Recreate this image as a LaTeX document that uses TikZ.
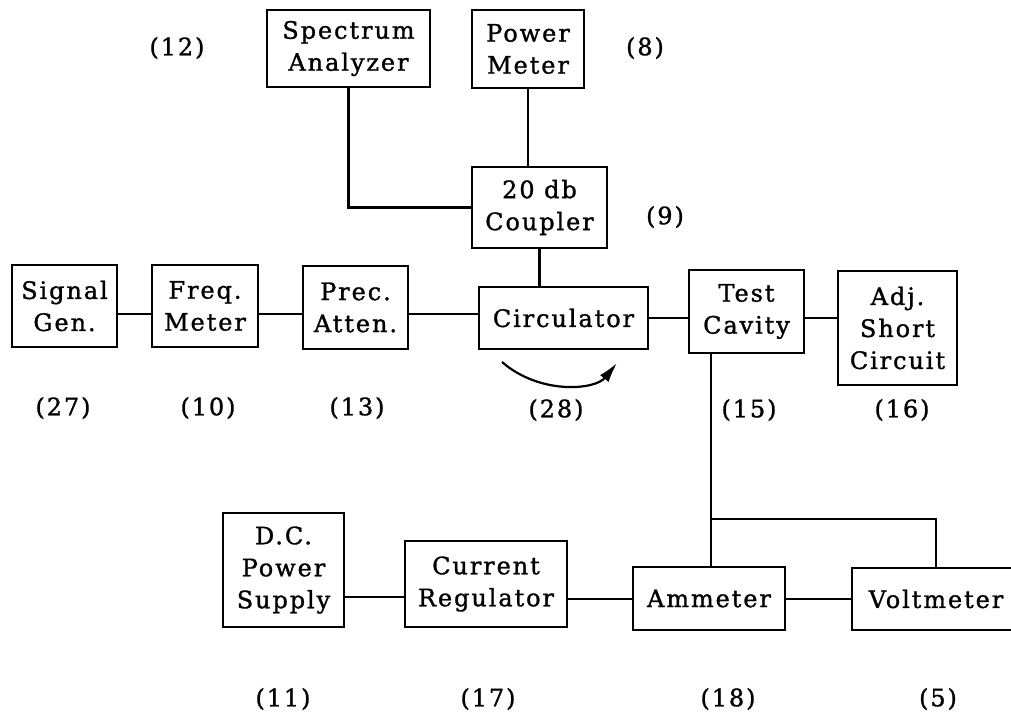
\documentclass[tikz,border=0pt]{standalone}
\usepackage{fontspec}
\usepackage{tikz}
\usetikzlibrary{arrows.meta, positioning, calc}

\newfontfamily\typefont[LetterSpace=8, FakeBold=1.2]{DejaVu Serif}
\newcommand\unitfont{\typefont\fontsize{12pt}{16pt}\selectfont}

\begin{document}
\begin{tikzpicture}[
      x=0.5pt, y=-0.5pt,
      unit/.style={
        rectangle, draw=black, line width=1.3pt, inner sep=0pt,
        align=center, font=\unitfont},
      tag/.style={font=\unitfont, inner sep=0pt},
      wire/.style={line width=1.1pt, black},
      flow/.style={-{Latex[length=10pt, width=5.5pt]}, line width=1.1pt, black}
    ]
    \useasboundingbox (0,0) rectangle (1011,713);
    \clip (0,0) rectangle (1011,713);

    % --- Monitoring units (top) ---
    \node[unit, minimum width=81.5pt, minimum height=38.5pt] (spec) at (348.5,48.5) {Spectrum\\Analyzer};
    \node[unit, minimum width=56pt,   minimum height=39pt]   (pwr)  at (528,49)     {Power\\Meter};
    \node[unit, minimum width=67.5pt, minimum height=40.5pt] (coup) at (539.5,207.5) {20 db\\Coupler};

    % --- Microwave chain ---
    \node[unit, minimum width=52.5pt, minimum height=41pt]   (sig)  at (64.5,306)  {Signal\\Gen.};
    \node[unit, minimum width=53pt,   minimum height=41pt]   (freq) at (205,306)   {Freq.\\Meter};
    \node[unit, minimum width=52.5pt, minimum height=41.5pt] (prec) at (355.5,307.5) {Prec.\\Atten.};
    \node[unit, minimum width=84.5pt, minimum height=31pt]   (circ) at (563.5,318) {Circulator};
    \node[unit, minimum width=57.5pt, minimum height=41.5pt] (test) at (746.5,311.5) {Test\\Cavity};
    \node[unit, minimum width=59.5pt, minimum height=57pt]   (adj)  at (897.5,328) {Adj.\\Short\\Circuit};

    % --- D.C. bias chain ---
    \node[unit, minimum width=60.5pt, minimum height=57pt]   (dc)   at (283.5,570) {D.C.\\Power\\Supply};
    \node[unit, minimum width=81pt,   minimum height=43pt]   (reg)  at (486,584)   {Current\\Regulator};
    \node[unit, minimum width=76pt,   minimum height=31.5pt] (amm)  at (709,598.5) {Ammeter};
    \node[unit, minimum width=84pt,   minimum height=31pt]   (volt) at (936,599)   {Voltmeter};

    % --- Reference numbers ---
    \node[tag] (n12) at (177,48)  {(12)};
    \node[tag] (n8)  at (645,48)  {(8)};
    \node[tag] (n9)  at (665,217) {(9)};
    \node[tag] (n27) at (63,408)  {(27)};
    \node[tag] (n10) at (208,408) {(10)};
    \node[tag] (n13) at (357,408) {(13)};
    \node[tag] (n28) at (556,410) {(28)};
    \node[tag] (n15) at (749,410) {(15)};
    \node[tag] (n16) at (902,410) {(16)};
    \node[tag] (n11) at (283,699) {(11)};
    \node[tag] (n17) at (488,699) {(17)};
    \node[tag] (n18) at (728,699) {(18)};
    \node[tag] (n5)  at (938,699) {(5)};

    % --- Row levels and junction ---
    \coordinate (rowA) at (0,314);
    \coordinate (rowB) at (0,318);
    \coordinate (rowC) at (0,599);
    \coordinate (jn)   at (711,519);

    % --- Coupler arms ---
    \draw[wire] (spec.south) |- (coup.west);
    \draw[wire] (pwr.south) -- (pwr.south |- coup.north);
    \draw[wire] (coup.south) -- (coup.south |- circ.north);

    % --- Microwave chain wires ---
    \draw[wire] (sig.east |- rowA)  -- (freq.west |- rowA);
    \draw[wire] (freq.east |- rowA) -- (prec.west |- rowA);
    \draw[wire] (prec.east |- rowA) -- (circ.west |- rowA);
    \draw[wire] (circ.east |- rowB) -- (test.west |- rowB);
    \draw[wire] (test.east |- rowB) -- (adj.west |- rowB);

    % --- Circulator sense ---
    \coordinate (arcA) at (502,362);
    \coordinate (arcB) at (617,363);
    \draw[flow] (arcA) .. controls (540,395) and (595,390) .. (arcB);

    % --- Bias wires ---
    \draw[wire] (jn |- test.south) -- (jn |- amm.north);
    \draw[wire] (jn) -| (volt.north);
    \draw[wire] (dc.east |- 0,597) -- (reg.west |- 0,597);
    \draw[wire] (reg.east |- rowC) -- (amm.west |- rowC);
    \draw[wire] (amm.east |- rowC) -- (volt.west |- rowC);
  \end{tikzpicture}
\end{document}
